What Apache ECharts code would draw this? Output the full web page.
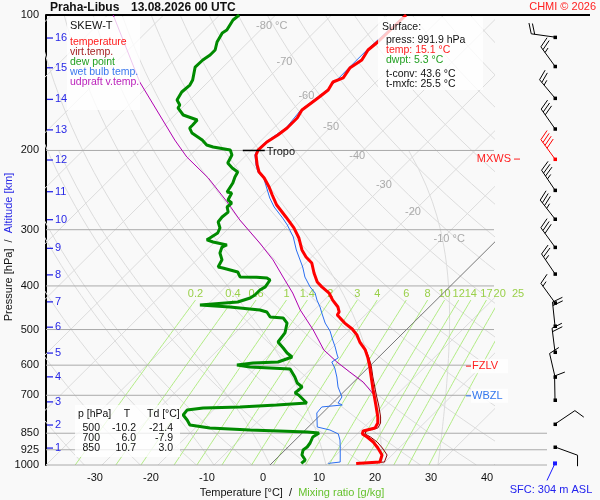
<!DOCTYPE html>
<html>
<head>
<meta charset="utf-8">
<script src="https://cdn.jsdelivr.net/npm/echarts/dist/echarts.min.js"></script>
<style>
html,body{margin:0;padding:0;background:#f9f9f9;}
#chart{width:600px;height:500px;}
</style>
</head>
<body>
<div id="chart"></div>
<script>
// ================= DATA =================
// each entry: [pressure hPa, value °C]
const temperature = [[100,-56.7],[114.8,-56.9],[119.6,-57.2],[125.9,-56.5],[131.2,-57.2],[138,-56.6],[140.9,-57.7],[146.8,-57.1],[152.9,-57.5],[162.6,-58.2],[169.4,-57.6],[178.3,-57.6],[184.8,-58.0],[191.5,-58.7],[199.5,-58.8],[204.7,-58.3],[215.4,-56.3],[223.3,-54.7],[230.2,-52.7],[241.1,-50.2],[251.2,-48.2],[264.4,-45.6],[281.1,-41.8],[297.3,-38.4],[313,-35.7],[332.8,-33.0],[345,-31.0],[355.7,-28.9],[374.4,-26.7],[392.1,-24.5],[402,-22.8],[414.8,-20.4],[430,-18.5],[445.6,-16.3],[457,-15.2],[464,-15.0],[471,-14.0],[483.7,-12.2],[498.6,-9.8],[514,-7.9],[533,-6.1],[555,-3.7],[578,-1.8],[603,0.0],[637,2.2],[681,4.9],[702.5,6.2],[735.6,8.1],[782,10.6],[807,11.7],[827.5,12.1],[840,10.5],[853,10.9],[866.5,12.3],[889,14.3],[916.6,16.2],[950,18.2],[985,19.1],[991.9,15.1]];

const virtualTemp = [[555,-3.6],[578,-1.6],[603,0.3],[637,2.5],[681,5.3],[702.5,6.6],[735.6,8.6],[782,11.1],[807,12.2],[827.5,12.6],[840,11.0],[853,11.4],[866.5,12.9],[889,15.0],[916.6,17.0],[950,19.1],[985,19.9],[991.9,16.1]];

const dewPoint = [[100,-86.5],[102.6,-86.7],[108,-86.0],[109.6,-86.3],[114.8,-85.6],[119.6,-84.5],[122.7,-84.5],[125.9,-84.9],[130.5,-85.0],[139.5,-83.1],[143.1,-82.7],[148.3,-82.9],[154.5,-82.3],[158.5,-80.9],[160.9,-80.7],[166.8,-78.5],[171.1,-75.1],[175.6,-75.0],[178.3,-75.0],[182.9,-73.7],[189.6,-70.6],[194.5,-68.9],[196.5,-67.4],[199.5,-63.8],[204.7,-62.6],[213.3,-61.9],[218.8,-60.2],[223.3,-58.5],[229.1,-58.1],[236.2,-57.4],[247.4,-56.8],[248.6,-55.8],[257.7,-55.2],[261.7,-54.0],[267.1,-54.1],[274.1,-53.0],[281.1,-53.2],[288.4,-53.0],[297.3,-51.6],[305.1,-51.1],[313,-51.6],[316,-51.8],[319.5,-50.3],[324.4,-47.3],[327.9,-47.8],[338,-47.1],[350,-45.5],[363.1,-44.9],[364.9,-43.9],[372.5,-40.5],[382.0,-39.2],[382.4,-36.2],[384.1,-34.2],[388,-33.3],[402,-32.9],[408.4,-33.3],[419,-33.3],[425.5,-33.6],[434.3,-35.1],[441.1,-41.3],[445.6,-35.6],[452.4,-29.7],[457.1,-28.1],[469,-26.6],[471.4,-24.1],[483.7,-22.5],[508.8,-21.1],[533,-20.7],[549.5,-18.7],[563.8,-17.1],[575.4,-15.5],[590.4,-17.1],[593.3,-21.4],[599.5,-23.9],[605.6,-21.2],[611.8,-13.7],[637.5,-11.4],[657.3,-9.9],[670.8,-8.3],[691.8,-8.5],[698.8,-7.5],[728.1,-4.6],[735.6,-9.6],[743.1,-15.8],[746.9,-22.2],[755,-24.7],[774.3,-24.5],[794.3,-22.9],[815,-21.5],[823.3,-20.8],[827.5,-17.4],[836,-9.9],[844.6,0.7],[849,3.0],[866.5,2.6],[893.5,3.2],[912,3.4],[926,3.2],[950,3.9],[975,5.4],[991.9,5.3]];

const wetBulb = [[100,-56.9],[119.6,-57.4],[131.2,-57.4],[146.8,-57.3],[162.6,-58.4],[178.3,-57.8],[191.5,-58.9],[199.5,-59.0],[204.7,-58.5],[215.4,-56.5],[223.3,-54.9],[230.2,-52.8],[255.1,-48.1],[267.1,-45.7],[282.6,-42.2],[292.9,-40.1],[311.3,-36.9],[332.8,-34.0],[363.1,-29.8],[382.2,-27.6],[402,-24.9],[414.8,-22.9],[430,-21.3],[445.6,-19.5],[459.5,-18.1],[483.7,-15.7],[503.8,-13.4],[527.5,-11.3],[546.8,-9.6],[569.6,-7.8],[578,-7.1],[590.4,-7.5],[608.7,-5.9],[637.5,-3.9],[670.8,-1.9],[706,0.6],[728,1.0],[735.6,2.1],[743,-1.2],[766.4,-1.0],[794.3,0.3],[823.3,1.6],[836,4.4],[853,6.6],[880,8.0],[912,9.3],[959.8,11.1],[985,12.0],[991.9,10.1]];

const updraftVirtTemp = [[100,-109.0],[140.9,-92.2],[189.6,-75.5],[206.8,-70.3],[230.2,-62.7],[260.3,-55.0],[285.4,-49.5],[321.1,-41.8],[350,-36.4],[382.2,-31.5],[414.8,-26.9],[452.4,-22.5],[501,-16.6],[555,-11.1],[590.4,-6.6],[621.3,-2.5],[654,1.7],[702.5,6.3]];

// wind profile (barbs), pressure hPa, direction deg, speed kt
const windP   = [112,130,153,179,209,245,284,328,376,436,491,561,637,717,811,912];
const windDir = [278,324,320,325,324,326,322,324,326,324,354,353,347,359,56,110];
const windSpd = [20,25,25,30,40,35,35,30,25,15,20,20,10,10,10,10];
const maxWindP = 209;

// altitude scale (km) and the pressure where each km mark sits
const altKm = [16,15,14,13,12,11,10,9,8,7,6,5,4,3,2,1];
const altP  = [112.5,131,154,180,210,247,285,330,378,434,494,564,637,724,815,917];

// axes / reference levels
const pressureLevels = [100,200,300,400,500,600,700,850,925,1000];
const tempTicks = [-30,-20,-10,0,10,20,30,40];
const mixingRatios = [0.2,0.4,0.6,1,1.4,2,3,4,6,8,10,12,14,17,20,25];
const isothermLabels = [-80,-70,-60,-50,-40,-30,-20,-10];

// standard-level table
const tableP  = [500,700,850];
const tableT  = [-10.2,6.0,10.7];
const tableTd = [-21.4,-7.9,3.0];

// surface & diagnostics
const sfcPress = 991.9, sfcTemp = 15.1, sfcDwpt = 5.3, tConv = 43.6, tMxfc = 25.5, sfcElev = 304;
const tropoP = 200, tropoT = -58.8;
const fzlvP = 603, wbzlP = 702;

// ================= LAYOUT / STYLE =================
const FONT = '"Liberation Sans", Arial, Helvetica, sans-serif';
const K = 81;                       // skew: degC per decade of pressure
const GRID = {left:46, top:15, width:448, height:450};
const BARB_OFFSET = 61;             // px right of diagram edge
const C = {red:'#ff0000', vred:'#8b0000', green:'#008a00', blue:'#2a6ef0', mag:'#b000b0',
           grid:'#dcdcdc', lvl:'#aaaaaa', mix:'#b2ec84', mixTxt:'#9ad04a', alt:'#2727e6'};

const sx = (T,p) => T + K*Math.log10(1000/p);
const toXY = arr => arr.map(d => [sx(d[1], d[0]), d[0]]);

function tdFromW(w, p){ const e = w*p/(622+w); const l = Math.log(e/6.112); return 243.5*l/(17.67-l); }

function lineS(data, color, width, z, clip){
  return {type:'line', data, showSymbol:false, symbol:'none', silent:true, animation:false,
    clip: clip!==false, z: z||1, lineStyle:{color, width}, emphasis:{disabled:true}};
}
function customS(data, renderItem, z){
  return {type:'custom', coordinateSystem:'cartesian2d', data, renderItem, silent:true,
    animation:false, z: z||3, clip:false, encode:{x:0,y:1}};
}
function txt(text, x, y, fill, size, align, valign, extra){
  return Object.assign({type:'text', style:{text, x, y, fill, font: (size||11)+'px '+FONT,
    align: align||'left', textAlign: align||'left', verticalAlign: valign||'middle', textVerticalAlign: valign||'middle'}}, extra||{});
}

const series = [];

// isotherms
for(let T=-130; T<=40; T+=10){
  series.push(lineS([[sx(T,1000),1000],[sx(T,100),100]], T===0?'#777':C.grid, 1, T===0?2:1));
}
// dry adiabats
for(let th=230; th<=470; th+=10){
  const d=[]; for(let i=0;i<=40;i++){ const p=1000*Math.pow(10,-i/40); d.push([sx(th*Math.pow(p/1000,0.2857)-273.15,p),p]); }
  series.push(lineS(d, C.grid, 1));
}
// moist adiabats
function moist(T0){
  const f=(T,p)=>{const Tc=T-273.15; const es=6.112*Math.exp(17.67*Tc/(Tc+243.5)); const rs=0.622*es/(p-es);
    return (287*T+2.5e6*rs)/(p*(1004+2.5e6*2.5e6*rs*0.622/(287*T*T)));};
  let T=T0+273.15, p=1000; const dp=-5; const d=[[sx(T0,p),p]];
  while(p>200){ const k1=f(T,p); const k2=f(T+k1*dp/2,p+dp/2); T+=k2*dp; p+=dp; if(Math.round(p)%20===0) d.push([sx(T-273.15,p),p]); }
  return d;
}
[-10,0,10,20,30].forEach(T0=>series.push(lineS(moist(T0), C.grid, 1)));
// mixing ratio lines
mixingRatios.forEach(w=>{
  const d=[]; for(let p=1000;p>=430;p-=10) d.push([sx(tdFromW(w,p),p),p]);
  series.push(lineS(d, C.mix, 1, 1, false));
});
series.push(customS(mixingRatios.map(w=>[sx(tdFromW(w,430),430),430,w]), (params,api)=>{
  const pt=api.coord([api.value(0),api.value(1)]);
  return txt(String(api.value(2)), pt[0], pt[1]-6, C.mixTxt, 11, 'center','middle');
}, 2));

// isotherm labels (placed along the upper-right diagonal)
const isoLabelP = [106,127,151,177,206,239,274,315];
series.push(customS(isothermLabels.map((T,i)=>[sx(T,isoLabelP[i]),isoLabelP[i],T]), (params,api)=>{
  const pt=api.coord([api.value(0),api.value(1)]); const T=api.value(2);
  const s = (T===-80||T===-10) ? T+' °C' : String(T);
  return txt(s, pt[0]-8, pt[1], '#aaaaaa', 11, 'left','middle');
}, 2));

// pressure levels with labels
series.push(customS(pressureLevels.map(p=>[0,p]), (params,api)=>{
  const p=api.value(1); const y=api.coord([0,p])[1];
  const xl=api.coord([-40,p])[0]; let xr=api.coord([40,p])[0];
  let col=C.lvl, w=1;
  if(p===100){ xr+=96; col='#000'; w=2; } else if(p>=850) xr+=53;
  return {type:'group', children:[
    {type:'line', shape:{x1:xl,y1:y,x2:xr,y2:y}, style:{stroke:col,lineWidth:w}},
    txt(String(p), xl-7, y, '#111', 11, 'right','middle')
  ]};
}, 2));

// sounding curves
series.push(lineS(toXY(updraftVirtTemp), C.mag, 1, 5));
series.push(lineS(toXY(wetBulb), C.blue, 1, 5));
series.push(lineS(toXY(dewPoint), C.green, 3, 6));
series.push(lineS(toXY(virtualTemp), C.vred, 1, 6));
series.push(lineS(toXY(temperature), C.red, 3, 7));

// altitude marks
series.push(customS(altP.map((p,i)=>[0,p,altKm[i]]), (params,api)=>{
  const y=api.coord([0,api.value(1)])[1]; const x0=GRID.left;
  return {type:'group', children:[
    {type:'line', shape:{x1:x0+1,y1:y,x2:x0+7,y2:y}, style:{stroke:C.alt,lineWidth:1.3}},
    txt(String(api.value(2)), x0+9, y, C.alt, 11, 'left','middle')
  ]};
}, 8));

// wind barbs
series.push(customS(windP.map((p,i)=>[0,p,windDir[i],windSpd[i]]), (params,api)=>{
  const p=api.value(1), dir=api.value(2), spd=api.value(3);
  const color = p===maxWindP ? '#ff0000' : '#000';
  const y=api.coord([0,p])[1]; const x=api.coord([40,p])[0]+BARB_OFFSET;
  const r=dir*Math.PI/180, dx=Math.sin(r), dy=-Math.cos(r);
  const L=24, tx=x+dx*L, ty=y+dy*L;
  const px=-dy, py=dx; const fx=0.94*px+0.34*dx, fy=0.94*py+0.34*dy;
  const ch=[{type:'line',shape:{x1:x,y1:y,x2:tx,y2:ty},style:{stroke:color,lineWidth:1}},
            {type:'rect',shape:{x:x-1.5,y:y-1.5,width:3.5,height:3.5},style:{fill:color}}];
  let full=Math.floor(spd/10), half=(spd%10)>=5?1:0, pos=0;
  for(let i=0;i<full;i++){ const bx=tx-dx*pos, by=ty-dy*pos;
    ch.push({type:'line',shape:{x1:bx,y1:by,x2:bx+fx*11,y2:by+fy*11},style:{stroke:color,lineWidth:1}}); pos+=3.5; }
  if(half){ if(full===0) pos=3.5; const bx=tx-dx*pos, by=ty-dy*pos;
    ch.push({type:'line',shape:{x1:bx,y1:by,x2:bx+fx*5.5,y2:by+fy*5.5},style:{stroke:color,lineWidth:1}}); }
  return {type:'group', children:ch};
}, 8));

// surface marker
series.push(customS([[0,sfcPress,sfcElev]], (params,api)=>{
  const y=api.coord([0,api.value(1)])[1]; const x=api.coord([40,api.value(1)])[0]+BARB_OFFSET;
  return {type:'group', children:[
    {type:'rect',shape:{x:x-2,y:y-2,width:4,height:4},style:{fill:'#1a1aff'}},
    {type:'line',shape:{x1:x,y1:y,x2:x-8,y2:y+17},style:{stroke:'#1a1aff',lineWidth:1}},
    txt('SFC: '+api.value(2)+' m ASL', x-4, y+27, '#2222ee', 11, 'center','middle')
  ]};
}, 8));

// tropopause / freezing level / wet bulb zero / max wind markers
series.push(customS([[sx(tropoT,tropoP),tropoP]], (params,api)=>{
  const pt=api.coord([api.value(0),api.value(1)]);
  return {type:'group', children:[
    {type:'line',shape:{x1:pt[0]-15,y1:pt[1],x2:pt[0]+7,y2:pt[1]},style:{stroke:'#000',lineWidth:1.5}},
    txt('Tropo', pt[0]+9, pt[1]+2, '#111', 11, 'left','middle')
  ]};
}, 9));
const levelMarks = [[0,fzlvP,'FZLV','#ff2020'],[0,wbzlP,'WBZL','#3377ee']];
series.push(customS(levelMarks.map(d=>[d[0],d[1]]), (params,api)=>{
  const d=levelMarks[params.dataIndex]; const y=api.coord([0,d[1]])[1]; const xr=api.coord([40,d[1]])[0];
  return {type:'group', children:[
    {type:'rect',shape:{x:xr-23,y:y-7,width:37,height:14},style:{fill:'rgba(255,255,255,0.85)'}},
    {type:'line',shape:{x1:xr-28,y1:y,x2:xr-23,y2:y},style:{stroke:d[3],lineWidth:1}},
    txt(d[2], xr-22, y, d[3], 11, 'left','middle')
  ]};
}, 9));
series.push(customS([[0,maxWindP]], (params,api)=>{
  const y=api.coord([0,api.value(1)])[1]; const xr=api.coord([40,api.value(1)])[0];
  return {type:'group', children:[
    txt('MXWS', xr+17, y, '#ff2020', 11, 'right','middle'),
    {type:'line',shape:{x1:xr+20,y1:y,x2:xr+26,y2:y},style:{stroke:'#ff2020',lineWidth:1}}
  ]};
}, 9));

// ================= GRAPHIC TEXT =================
const G = [];
const box = (x,y,w,h)=>({type:'rect', z:100, shape:{x,y,width:w,height:h}, style:{fill:'rgba(255,255,255,0.78)'}});
const gt = (s,x,y,fill,size,align,extra)=>Object.assign(txt(s,x,y,fill,size,align,'middle'),{z:101},extra||{});
// title
G.push(gt('Praha-Libus',50,8,'#111',12,'left',{style:{text:'Praha-Libus',x:50,y:8,fill:'#111',font:'bold 12px '+FONT,align:'left',textAlign:'left',verticalAlign:'middle',textVerticalAlign:'middle'}}));
G.push(gt('13.08.2026 00 UTC',131,8,'#111',12,'left',{style:{text:'13.08.2026 00 UTC',x:131,y:8,fill:'#111',font:'bold 12px '+FONT,align:'left',textAlign:'left',verticalAlign:'middle',textVerticalAlign:'middle'}}));
G.push(gt('CHMI © 2026',596,7,'#ff2020',11,'right'));
// legend box
G.push(box(67,17,73,93));
G.push(gt('SKEW-T',70,26,'#111',11,'left'));
[['temperature','#ff1a1a'],['virt.temp.','#a52222'],['dew point','#22a022'],['wet bulb temp.','#3a78ee'],['udpraft v.temp.','#bb22bb']]
  .forEach((d,i)=>G.push(gt(d[0],70,42+10*i,d[1],10.5,'left')));
// surface box
G.push(box(378,17,105,73));
G.push(gt('Surface:',382,27,'#111',10.5,'left'));
G.push(gt('press: '+sfcPress.toFixed(1)+' hPa',386,40,'#111',10.5,'left'));
G.push(gt('temp: '+sfcTemp.toFixed(1)+' °C',386,50,'#ff2020',10.5,'left'));
G.push(gt('dwpt: '+sfcDwpt.toFixed(1)+' °C',386,60,'#22a022',10.5,'left'));
G.push(gt('t-conv: '+tConv.toFixed(1)+' °C',386,74,'#111',10.5,'left'));
G.push(gt('t-mxfc: '+tMxfc.toFixed(1)+' °C',386,84,'#111',10.5,'left'));
// table
G.push(box(75,405,105,52));
G.push(gt('p [hPa]',78,414,'#111',10.5,'left'));
G.push(gt('T',127,414,'#111',10.5,'center'));
G.push(gt('Td [°C]',147,414,'#111',10.5,'left'));
tableP.forEach((p,i)=>{
  const y=428+10*i;
  G.push(gt(String(p),100,y,'#111',10.5,'right'));
  G.push(gt(tableT[i].toFixed(1),136,y,'#111',10.5,'right'));
  G.push(gt(tableTd[i].toFixed(1),173,y,'#111',10.5,'right'));
});
// axis names
G.push({type:'text', z:101, x:292, y:493, style:{text:'{a|Temperature [°C]}  /  {b|Mixing ratio [g/kg]}', font:'11px '+FONT, fill:'#111',
  align:'center', textAlign:'center', verticalAlign:'middle', textVerticalAlign:'middle',
  rich:{a:{fill:'#111',color:'#111',font:'11px '+FONT}, b:{fill:'#66c22e',color:'#66c22e',font:'11px '+FONT}}}});
G.push({type:'text', z:101, x:9, y:247, rotation:Math.PI/2, style:{text:'{a|Pressure [hPa]}  /  {b|Altitude [km]}', font:'11px '+FONT, fill:'#111',
  align:'center', textAlign:'center', verticalAlign:'middle', textVerticalAlign:'middle',
  rich:{a:{fill:'#111',color:'#111',font:'11px '+FONT}, b:{fill:C.alt,color:C.alt,font:'11px '+FONT}}}});

// ================= CHART =================
const chart = echarts.init(document.getElementById('chart'), null, {renderer:'canvas'});
chart.setOption({
  animation:false,
  backgroundColor:'#f9f9f9',
  grid:{left:GRID.left, top:GRID.top, width:GRID.width, height:GRID.height, show:false, containLabel:false, outerBoundsMode:'none'},
  xAxis:{type:'value', min:-40, max:40, interval:10,
    axisLine:{show:false, onZero:false}, axisTick:{show:false}, splitLine:{show:false},
    axisLabel:{margin:7, color:'#111', fontSize:11, fontFamily:FONT, showMinLabel:true, showMaxLabel:true, hideOverlap:false,
      formatter:v=> tempTicks.includes(v) ? '{a|'+v+'}' : '',
      rich:{a:{padding:[0,14,0,0], fontSize:11, fontFamily:FONT, color:'#111'}}}},
  yAxis:{type:'log', logBase:10, min:100, max:1000, inverse:true, position:'left',
    axisLine:{show:true, onZero:false, lineStyle:{color:'#000', width:2}}, axisTick:{show:false},
    axisLabel:{show:false}, splitLine:{show:false}},
  graphic:G,
  series
});
</script>
</body>
</html>
